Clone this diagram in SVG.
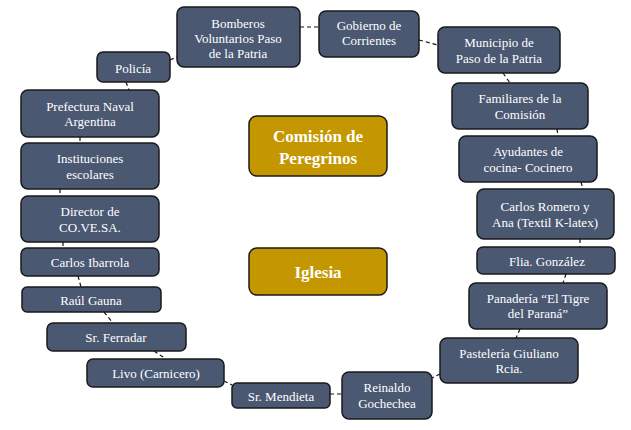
<svg xmlns="http://www.w3.org/2000/svg" width="631" height="430" viewBox="0 0 631 430" font-family="Liberation Serif, DejaVu Serif, serif">
<style>
.n rect{fill:#4a5872;stroke:#1a1a1a;stroke-width:1.5}
.n text{fill:#fff;font-family:'Liberation Serif','DejaVu Serif',serif;font-size:13px;text-anchor:middle}
.g rect{fill:#c49700;stroke:#1a1a1a;stroke-width:1.5}
.g text{fill:#fff;font-family:'Liberation Serif','DejaVu Serif',serif;font-size:17px;font-weight:bold;text-anchor:middle}
.c line{stroke:#111;stroke-width:1.2;stroke-dasharray:4 3;fill:none}
</style>
<rect width="631" height="430" fill="#fff"/>
<g class="c" id="connectors">
<line x1="300" y1="27" x2="319" y2="27"/>
<line x1="419" y1="40" x2="438" y2="45"/>
<line x1="503" y1="73" x2="510" y2="83"/>
<line x1="557" y1="129" x2="558" y2="136"/>
<line x1="581" y1="182" x2="583" y2="189"/>
<line x1="580" y1="239" x2="580" y2="247"/>
<line x1="566" y1="274" x2="563" y2="283"/>
<line x1="520" y1="329" x2="516" y2="338"/>
<line x1="440" y1="374" x2="432" y2="378"/>
<line x1="330" y1="394" x2="342" y2="394"/>
<line x1="224" y1="381" x2="232" y2="385"/>
<line x1="154" y1="351" x2="166" y2="359"/>
<line x1="104" y1="312" x2="113" y2="323"/>
<line x1="78" y1="276" x2="81" y2="287"/>
<line x1="63" y1="242" x2="63" y2="248"/>
<line x1="60" y1="189" x2="60" y2="196"/>
<line x1="80" y1="137" x2="80" y2="143"/>
<line x1="126" y1="82" x2="129" y2="90"/>
<line x1="170" y1="60" x2="177" y2="57"/>
</g>
<g class="n" id="bomberos"><rect x="177" y="7" width="123" height="60" rx="7"/><text x="238" y="28">Bomberos</text><text x="238" y="43">Voluntarios Paso</text><text x="238" y="58">de la Patria</text></g>
<g class="n" id="policia"><rect x="97" y="52" width="73" height="30" rx="6"/><text x="133" y="73">Policía</text></g>
<g class="n" id="gobierno"><rect x="319" y="11" width="100" height="46" rx="7"/><text x="369" y="30">Gobierno de</text><text x="369" y="45">Corrientes</text></g>
<g class="n" id="municipio"><rect x="438" y="27" width="122" height="46" rx="7"/><text x="499" y="47">Municipio de</text><text x="499" y="63">Paso de la Patria</text></g>
<g class="n" id="familiares"><rect x="452" y="83" width="136" height="46" rx="7"/><text x="520" y="103">Familiares de la</text><text x="520" y="119">Comisión</text></g>
<g class="n" id="ayudantes"><rect x="459" y="136" width="138" height="46" rx="7"/><text x="528" y="156">Ayudantes de</text><text x="528" y="172">cocina- Cocinero</text></g>
<g class="n" id="romero"><rect x="477" y="189" width="137" height="50" rx="7"/><text x="545" y="211">Carlos Romero y</text><text x="545" y="227">Ana (Textil K-latex)</text></g>
<g class="n" id="gonzalez"><rect x="477" y="247" width="138" height="27" rx="6"/><text x="547" y="266">Flia. González</text></g>
<g class="n" id="panaderia"><rect x="469" y="283" width="138" height="46" rx="7"/><text x="538" y="303">Panadería “El Tigre</text><text x="538" y="318">del Paraná”</text></g>
<g class="n" id="pasteleria"><rect x="440" y="338" width="138" height="45" rx="7"/><text x="509" y="358">Pastelería Giuliano</text><text x="509" y="373">Rcia.</text></g>
<g class="n" id="reinaldo"><rect x="342" y="372" width="90" height="47" rx="7"/><text x="387" y="392">Reinaldo</text><text x="387" y="408">Gochechea</text></g>
<g class="n" id="mendieta"><rect x="232" y="383" width="98" height="25" rx="5"/><text x="281" y="401">Sr. Mendieta</text></g>
<g class="n" id="livo"><rect x="87" y="359" width="137" height="28" rx="6"/><text x="156" y="378">Livo (Carnicero)</text></g>
<g class="n" id="ferradar"><rect x="47" y="323" width="139" height="28" rx="6"/><text x="116" y="342">Sr. Ferradar</text></g>
<g class="n" id="gauna"><rect x="22" y="287" width="139" height="25" rx="5"/><text x="91" y="305">Raúl Gauna</text></g>
<g class="n" id="ibarrola"><rect x="21" y="248" width="138" height="28" rx="6"/><text x="90" y="267">Carlos Ibarrola</text></g>
<g class="n" id="director"><rect x="21" y="196" width="138" height="46" rx="7"/><text x="90" y="216">Director de</text><text x="90" y="232">CO.VE.SA.</text></g>
<g class="n" id="instituciones"><rect x="21" y="143" width="138" height="46" rx="7"/><text x="90" y="163">Instituciones</text><text x="90" y="179">escolares</text></g>
<g class="n" id="prefectura"><rect x="21" y="90" width="138" height="47" rx="7"/><text x="90" y="111">Prefectura Naval</text><text x="90" y="126">Argentina</text></g>
<g class="g" id="comision"><rect x="249" y="116" width="138" height="60" rx="8"/><text x="318" y="142">Comisión de</text><text x="318" y="164">Peregrinos</text></g>
<g class="g" id="iglesia"><rect x="249" y="248" width="138" height="47" rx="8"/><text x="318" y="278">Iglesia</text></g>
</svg>
